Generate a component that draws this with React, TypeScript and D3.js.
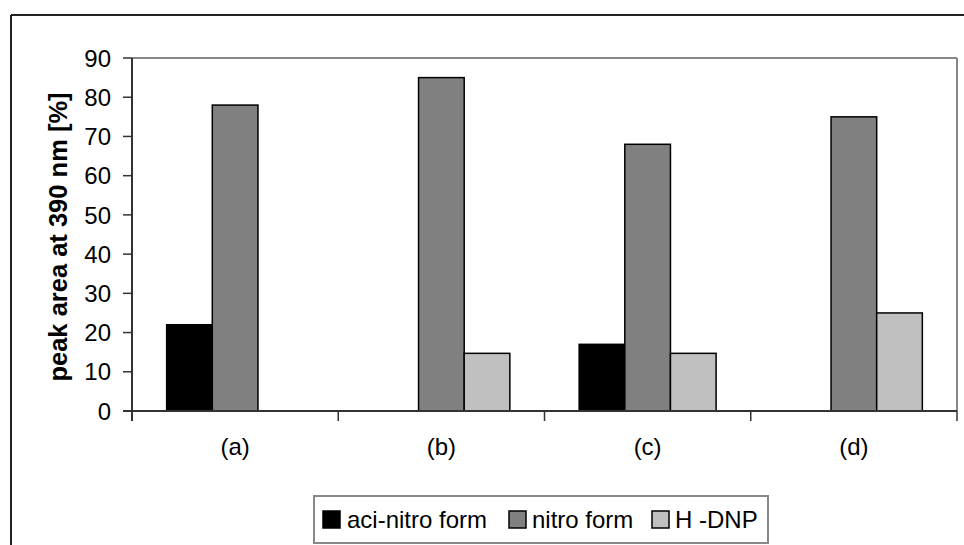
import React from "react";
import * as d3 from "d3";

const categories = ["(a)", "(b)", "(c)", "(d)"];
const seriesNames = ["aci-nitro form", "nitro form", "H -DNP"];
const aciNitro = [22, 0, 17, 0];
const nitro = [78, 85, 68, 75];
const hdnp = [0, 14.7, 14.7, 25];
const yTicks = [0, 10, 20, 30, 40, 50, 60, 70, 80, 90];
const colors = ["#000000", "#808080", "#C0C0C0"];

const W = 964;
const H = 545;
const plot = { left: 132, right: 957, top: 58, bottom: 411 };
const font = "'Liberation Sans', Arial, sans-serif";

export default function App() {
  const series = [aciNitro, nitro, hdnp];
  const x = d3.scaleBand<string>().domain(categories).range([plot.left, plot.right]).padding(0);
  const y = d3.scaleLinear().domain([0, 90]).range([plot.bottom, plot.top]);
  const groupInner = x.bandwidth() * 0.664;
  const inner = d3
    .scaleBand<number>()
    .domain([0, 1, 2])
    .range([(x.bandwidth() - groupInner) / 2, (x.bandwidth() + groupInner) / 2])
    .padding(0);
  const boundaries = [...categories.map((c) => x(c) as number), plot.right];

  const legend = { left: 314, right: 768, top: 496, bottom: 543 };
  const legendItems = [
    { mx: 323, tx: 347 },
    { mx: 509, tx: 532 },
    { mx: 652, tx: 675 },
  ];

  return (
    <svg
      width={W}
      height={H}
      style={{ position: "absolute", left: 0, top: 0, background: "#fff" }}
      fontFamily={font}
    >
      <rect x={0} y={0} width={W} height={H} fill="#fff" />
      {/* outer chart frame */}
      <line x1={11} y1={15} x2={W} y2={15} stroke="#222" strokeWidth={2} />
      <line x1={11} y1={15} x2={11} y2={H} stroke="#222" strokeWidth={2} />

      {/* plot area border (top and right) */}
      <line x1={plot.left} y1={plot.top} x2={plot.right} y2={plot.top} stroke="#888" strokeWidth={2} />
      <line x1={plot.right} y1={plot.top} x2={plot.right} y2={plot.bottom} stroke="#888" strokeWidth={2} />

      {/* bars */}
      {categories.map((c, ci) =>
        series.map((s, si) =>
          s[ci] > 0 ? (
            <rect
              key={`${ci}-${si}`}
              x={(x(c) as number) + (inner(si) as number)}
              y={y(s[ci])}
              width={inner.bandwidth()}
              height={y(0) - y(s[ci])}
              fill={colors[si]}
              stroke="#000"
              strokeWidth={1.5}
            />
          ) : null
        )
      )}

      {/* y axis */}
      <line x1={plot.left} y1={plot.top} x2={plot.left} y2={plot.bottom + 10} stroke="#333" strokeWidth={2} />
      {yTicks.map((t) => (
        <g key={t}>
          <line x1={plot.left - 9} x2={plot.left} y1={y(t)} y2={y(t)} stroke="#333" strokeWidth={1.5} />
          <text x={111} y={y(t)} dy="0.36em" textAnchor="end" fontSize={24} fill="#000">
            {t}
          </text>
        </g>
      ))}

      {/* x axis */}
      <line x1={plot.left - 9} x2={plot.right} y1={plot.bottom} y2={plot.bottom} stroke="#333" strokeWidth={2} />
      {boundaries.map((b, i) => (
        <line key={i} x1={b} x2={b} y1={plot.bottom} y2={plot.bottom + 10} stroke="#333" strokeWidth={1.5} />
      ))}
      {categories.map((c) => (
        <text
          key={c}
          x={(x(c) as number) + x.bandwidth() / 2}
          y={446}
          dy="0.36em"
          textAnchor="middle"
          fontSize={24}
          fill="#000"
        >
          {c}
        </text>
      ))}

      {/* y axis title */}
      <text
        transform={`translate(58, 237) rotate(-90)`}
        textAnchor="middle"
        dy="0.36em"
        fontSize={25.5}
        fontWeight="bold"
        fill="#000"
      >
        peak area at 390 nm [%]
      </text>

      {/* legend */}
      <rect
        x={legend.left}
        y={legend.top}
        width={legend.right - legend.left}
        height={legend.bottom - legend.top}
        fill="#fff"
        stroke="#888"
        strokeWidth={2}
      />
      {seriesNames.map((n, i) => (
        <g key={n}>
          <rect x={legendItems[i].mx} y={511} width={17} height={17} fill={colors[i]} stroke="#000" strokeWidth={1.5} />
          <text x={legendItems[i].tx} y={519.5} dy="0.36em" fontSize={24} fill="#000">
            {n}
          </text>
        </g>
      ))}
    </svg>
  );
}
